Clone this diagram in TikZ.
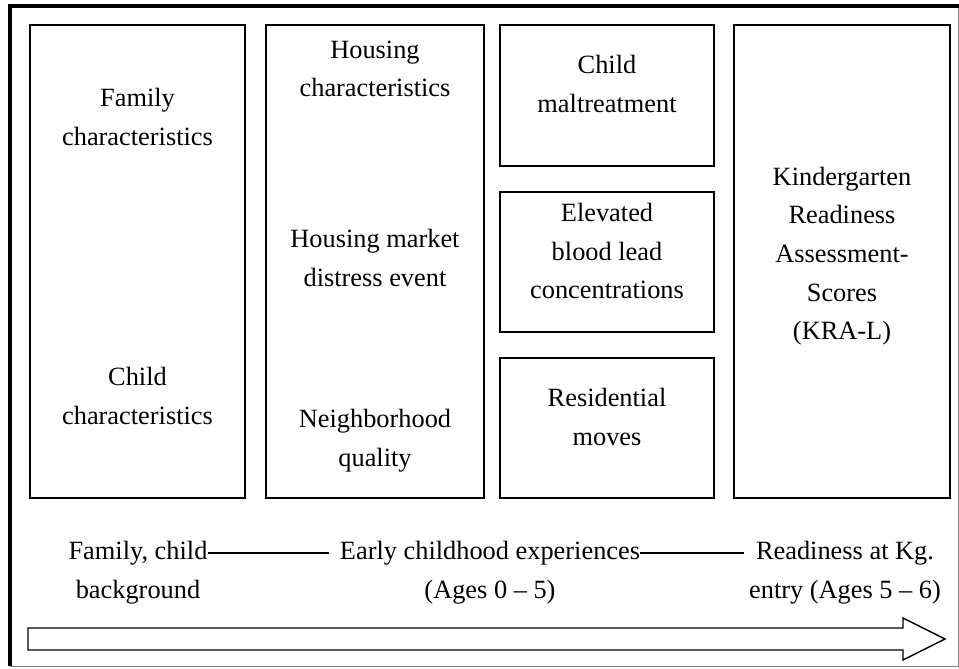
\documentclass[tikz,border=0pt]{standalone}
\usepackage{fontspec}
\setmainfont{Liberation Serif}
\usepackage{tikz}

\begin{document}
\begin{tikzpicture}[
		stagebox/.style={rectangle, draw, line width=0.8pt, inner sep=0pt},
		boxtext/.style={align=center, font=\fontsize{15pt}{22pt}\selectfont},
		timetext/.style={inner sep=0pt, font=\fontsize{15pt}{22pt}\selectfont}
	]
		
		\useasboundingbox (0,0) rectangle (19.18,-13.36);
		
		% Frame
		
		\draw[gray, line width=0.5pt] (19.16,-0.12) -- (19.16,-13.32) -- (0.2,-13.32);
		\draw[line width=1.8pt] (0.2,-13.32) -- (0.2,-0.12) -- (19.18,-0.12);
		
		% Boxes
		
		\node[stagebox, minimum width=4.3cm, minimum height=9.46cm]
		(famBox) at (2.75,-5.23) {};
		
		\node[stagebox, minimum width=4.36cm, minimum height=9.46cm]
		(houseBox) at (7.5,-5.23) {};
		
		\node[stagebox, minimum width=4.28cm, minimum height=2.82cm]
		(maltBox) at (12.14,-1.91) {};
		
		\node[stagebox, minimum width=4.28cm, minimum height=2.8cm]
		(leadBox) at (12.14,-5.24) {};
		
		\node[stagebox, minimum width=4.28cm, minimum height=2.8cm]
		(movesBox) at (12.14,-8.56) {};
		
		\node[stagebox, minimum width=4.32cm, minimum height=9.46cm]
		(kraBox) at (16.84,-5.23) {};
		
		% Box texts
		
		\node[boxtext] (famText) at (2.75,-2.34) {Family\\characteristics};
		\node[boxtext] (childText) at (2.75,-7.92) {Child\\characteristics};
		
		\node[boxtext] (houseText) at (7.5,-1.38) {Housing\\characteristics};
		\node[boxtext] (marketText) at (7.5,-5.16) {Housing market\\distress event};
		\node[boxtext] (neighText) at (7.5,-8.82) {Neighborhood\\quality};
		
		\node[boxtext] (maltText) at (12.14,-1.68) {Child\\maltreatment};
		\node[boxtext] (leadText) at (12.14,-5.02) {Elevated\\blood lead\\concentrations};
		\node[boxtext] (movesText) at (12.14,-8.34) {Residential\\moves};
		
		\node[boxtext] (kraText) at (16.84,-5.12) {Kindergarten\\Readiness\\Assessment-\\Scores\\(KRA-L)};
		
		% Time line
		
		\node[timetext] (famLine) at (2.76,-11.06) {Family, child};
		\node[timetext] (famLineB) at (2.76,-11.84) {background};
		
		\node[timetext] (earlyLine) at (9.8,-11.06) {Early childhood experiences};
		\node[timetext] (earlyLineB) at (9.8,-11.84) {(Ages 0 -- 5)};
		
		\node[timetext] (readyLine) at (16.9,-11.06) {Readiness at Kg.};
		\node[timetext] (readyLineB) at (16.9,-11.84) {entry (Ages 5 -- 6)};
		
		\draw[line width=0.8pt, shorten >=0.22cm] (famLine.east) -- (earlyLine.west);
		\draw[line width=0.8pt, shorten >=0.24cm] (earlyLine.east) -- (readyLine.west);
		
		% Arrow
		
		\draw[line width=0.8pt] (0.56,-12.56) -- (18.06,-12.56) -- (18.06,-12.36)
		-- (18.9,-12.78) -- (18.06,-13.2) -- (18.06,-13.0) -- (0.56,-13.0) -- cycle;
		
	\end{tikzpicture}
\end{document}
